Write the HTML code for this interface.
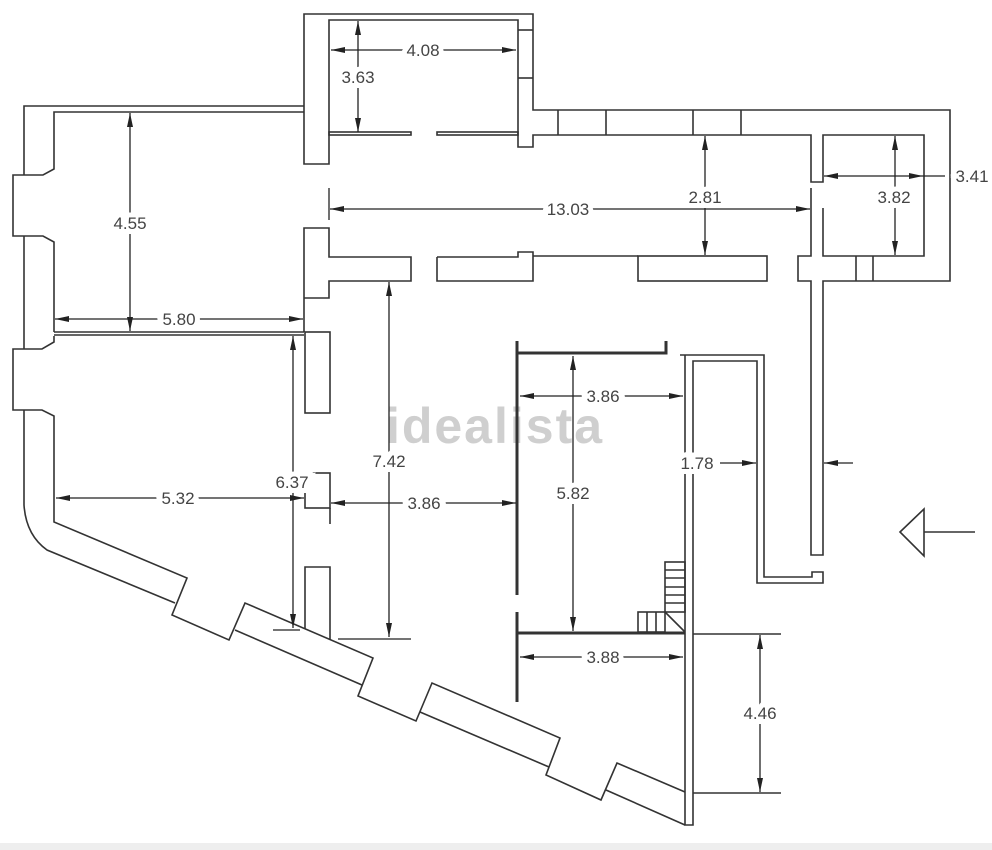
<!DOCTYPE html>
<html><head><meta charset="utf-8"><style>
html,body{margin:0;padding:0;background:#fff;}
svg{display:block}
text{font-family:"Liberation Sans",sans-serif;font-size:17px;fill:#444;}
.d{paint-order:stroke;stroke:#fff;stroke-width:10px;}
</style></head><body>
<svg width="992" height="850" viewBox="0 0 992 850" xmlns="http://www.w3.org/2000/svg">
<defs>
<marker id="a" viewBox="0 0 14 6" refX="14" refY="3" markerWidth="14" markerHeight="6" markerUnits="userSpaceOnUse" orient="auto-start-reverse">
<path d="M0,0 L14,3 L0,6 Z" fill="#222"/></marker>
</defs>
<rect x="0" y="843" width="992" height="7" fill="#eeeeee"/>
<text x="495" y="443" text-anchor="middle" style="font-size:50px;font-weight:bold;fill:#cfcfcf;letter-spacing:2px">idealista</text>
<g fill="none" stroke="#333" stroke-width="1.6">
<!-- left outer wall -->
<polyline points="304,106 24,106 24,175"/>
<polyline points="24,236 24,349"/>
<path d="M24,410 L24,505 Q26,535 47,550 L175,603"/>
<polyline points="304,112 54,112 54,169 43,175 13,175 13,236 43,236 54,242 54,332"/>
<polyline points="54,336 54,342 42,349 13,349 13,410 42,410 54,416 54,522 187,578 172,615 229,640 245,603 373,658 358,696 416,721 432,683 560,738 546,775 601,800 617,763 685,792"/>
<line x1="235" y1="630" x2="362" y2="685"/>
<line x1="420" y1="712" x2="549" y2="767"/>
<line x1="606" y1="790" x2="685" y2="825"/>
<line x1="54" y1="332" x2="304" y2="332"/>
<line x1="54" y1="335" x2="304" y2="335"/>
<!-- top room -->
<polyline points="304,106 304,14 533,14 533,110 950,110 950,281 823,281 823,555 811,555 811,281 798,281 798,256 811,256 811,188"/>
<polyline points="304,106 304,164 329,164 329,20 518,20 518,147 533,147 533,135 811,135 811,182 823,182 823,135 924,135 924,256 823,256 823,208"/>
<line x1="518" y1="30" x2="533" y2="30"/><line x1="518" y1="78" x2="533" y2="78"/>
<line x1="558" y1="110" x2="558" y2="135"/><line x1="606" y1="110" x2="606" y2="135"/>
<line x1="693" y1="110" x2="693" y2="135"/><line x1="741" y1="110" x2="741" y2="135"/>
<line x1="856" y1="256" x2="856" y2="281"/><line x1="873" y1="256" x2="873" y2="281"/>
<rect x="329" y="132" width="82" height="3"/>
<rect x="437" y="132" width="81" height="3"/>
<!-- corridor walls -->
<polyline points="304,332 304,228 329,228 329,257 411,257 411,281 329,281 329,298 304,298"/>
<polyline points="437,257 437,281 533,281 533,252 518,252 518,257 437,257"/>
<polyline points="533,256 638,256"/>
<rect x="638" y="256" width="129" height="25"/>
<!-- middle columns -->
<rect x="305" y="332" width="25" height="81"/>
<rect x="305" y="473" width="25" height="35"/>
<line x1="330" y1="508" x2="330" y2="524"/>
<polyline points="305,629 305,567 330,567 330,640"/>
<!-- middle room -->
<line x1="517" y1="341" x2="517" y2="595" stroke-width="3"/>
<line x1="517" y1="612" x2="517" y2="702" stroke-width="3"/>
<polyline points="517,353 666,353 666,341" stroke-width="3"/>
<line x1="517" y1="633" x2="685" y2="633" stroke-width="3"/>
<!-- stair room -->
<polyline points="680,355 764,355 764,577 812,577 812,572 823,572 823,583 757,583 757,361 693,361 693,825 685,825 685,355"/>
<rect x="665" y="562" width="20" height="50"/>
<line x1="665" y1="570" x2="685" y2="570"/><line x1="665" y1="578" x2="685" y2="578"/>
<line x1="665" y1="587" x2="685" y2="587"/><line x1="665" y1="595" x2="685" y2="595"/>
<line x1="665" y1="603" x2="685" y2="603"/>
<rect x="638" y="612" width="27" height="20"/>
<line x1="647" y1="612" x2="647" y2="632"/><line x1="656" y1="612" x2="656" y2="632"/>
<line x1="665" y1="612" x2="685" y2="632"/>
<line x1="693" y1="634" x2="781" y2="634"/><line x1="693" y1="793" x2="781" y2="793"/>
<!-- entry arrow -->
<polygon points="900,532 924,509 924,556"/>
<line x1="924" y1="532" x2="975" y2="532"/>
</g>
<!-- dimension lines -->
<g stroke="#222" stroke-width="1.3" fill="none">
<line x1="331" y1="50" x2="516" y2="50" marker-start="url(#a)" marker-end="url(#a)"/>
<line x1="358" y1="21" x2="358" y2="132" marker-start="url(#a)" marker-end="url(#a)"/>
<line x1="130" y1="113" x2="130" y2="331" marker-start="url(#a)" marker-end="url(#a)"/>
<line x1="55" y1="319" x2="303" y2="319" marker-start="url(#a)" marker-end="url(#a)"/>
<line x1="329" y1="188" x2="329" y2="220"/>
<line x1="330" y1="209" x2="810" y2="209" marker-start="url(#a)" marker-end="url(#a)"/>
<line x1="705" y1="136" x2="705" y2="255" marker-start="url(#a)" marker-end="url(#a)"/>
<line x1="895" y1="136" x2="895" y2="255" marker-start="url(#a)" marker-end="url(#a)"/>
<line x1="824" y1="176" x2="923" y2="176" marker-start="url(#a)" marker-end="url(#a)"/>
<line x1="923" y1="176" x2="945" y2="176"/>
<line x1="293" y1="336" x2="293" y2="628" marker-start="url(#a)" marker-end="url(#a)"/>
<line x1="273" y1="630" x2="300" y2="630"/>
<line x1="389" y1="282" x2="389" y2="637" marker-start="url(#a)" marker-end="url(#a)"/>
<line x1="338" y1="639" x2="411" y2="639"/>
<line x1="56" y1="498" x2="304" y2="498" marker-start="url(#a)" marker-end="url(#a)"/>
<line x1="331" y1="503" x2="516" y2="503" marker-start="url(#a)" marker-end="url(#a)"/>
<line x1="520" y1="396" x2="683" y2="396" marker-start="url(#a)" marker-end="url(#a)"/>
<line x1="573" y1="356" x2="573" y2="631" marker-start="url(#a)" marker-end="url(#a)"/>
<line x1="520" y1="657" x2="683" y2="657" marker-start="url(#a)" marker-end="url(#a)"/>
<line x1="720" y1="463" x2="756" y2="463" marker-end="url(#a)"/>
<line x1="853" y1="463" x2="824" y2="463" marker-end="url(#a)"/>
<line x1="760" y1="635" x2="760" y2="792" marker-start="url(#a)" marker-end="url(#a)"/>
</g>
<g>
<text class="d" x="423" y="56" text-anchor="middle">4.08</text>
<text class="d" x="358" y="83" text-anchor="middle">3.63</text>
<text class="d" x="130" y="229" text-anchor="middle">4.55</text>
<text class="d" x="179" y="325" text-anchor="middle">5.80</text>
<text class="d" x="568" y="215" text-anchor="middle">13.03</text>
<text class="d" x="705" y="203" text-anchor="middle">2.81</text>
<text class="d" x="894" y="203" text-anchor="middle">3.82</text>
<text class="d" x="972" y="182" text-anchor="middle">3.41</text>
<text class="d" x="292" y="488" text-anchor="middle">6.37</text>
<text class="d" x="389" y="467" text-anchor="middle">7.42</text>
<text class="d" x="178" y="504" text-anchor="middle">5.32</text>
<text class="d" x="424" y="509" text-anchor="middle">3.86</text>
<text class="d" x="603" y="402" text-anchor="middle">3.86</text>
<text class="d" x="573" y="499" text-anchor="middle">5.82</text>
<text class="d" x="603" y="663" text-anchor="middle">3.88</text>
<text class="d" x="697" y="469" text-anchor="middle">1.78</text>
<text class="d" x="760" y="719" text-anchor="middle">4.46</text>
</g>
</svg>
</body></html>
